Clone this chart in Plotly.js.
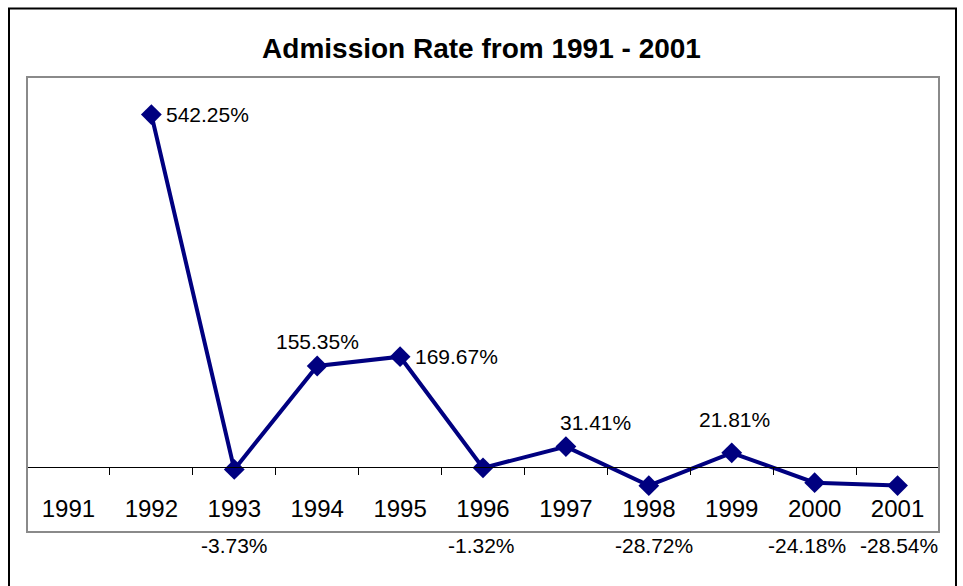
<!DOCTYPE html>
<html>
<head>
<meta charset="utf-8">
<script src="https://cdn.plot.ly/plotly-3.0.1.min.js"></script>
<style>
  html, body { margin: 0; padding: 0; background: #ffffff; }
  #chart { width: 963px; height: 586px; }
</style>
</head>
<body>
<div id="chart"></div>
<script>
// ---- data ----
const years = ['1991','1992','1993','1994','1995','1996','1997','1998','1999','2000','2001'];
const rates = [null, 542.25, -3.73, 155.35, 169.67, -1.32, 31.41, -28.72, 21.81, -24.18, -28.54];
const chartTitle = 'Admission Rate from 1991 - 2001';

// ---- label placement (style only) ----
const labelPos    = [null, 'right', 'below', 'above', 'right', 'below', 'above', 'below', 'above', 'below', 'below'];
const labelShift  = [0, 0, 0, 0, 0, -2, 30, 5, 3, -8, 1];
const labelLift   = [0, 0, 0, 0, 0, 0, 0, 0, 9, 0, 0];

const yMin = -100, yMax = 600;
const FONT = 'Liberation Sans, Arial, sans-serif';
const NAVY = '#000080';

const trace = {
  type: 'scatter',
  mode: 'lines+markers',
  x: years,
  y: rates,
  connectgaps: false,
  line: { color: NAVY, width: 4 },
  marker: { symbol: 'diamond', size: 16, color: NAVY, line: { width: 0 } },
  hoverinfo: 'skip',
  cliponaxis: false
};

const annotations = [];
years.forEach((yr, i) => {
  const v = rates[i];
  if (v === null) return;
  const txt = v.toFixed(2) + '%';
  // x given as category index so numeric-looking category names are not misread
  const base = { x: i, text: txt, showarrow: false, font: { family: FONT, size: 21, color: '#000000' }, xref: 'x' };
  if (labelPos[i] === 'right') {
    annotations.push(Object.assign(base, { y: v, yref: 'y', xanchor: 'left', yanchor: 'middle', xshift: 13 + labelShift[i] }));
  } else if (labelPos[i] === 'above') {
    annotations.push(Object.assign(base, { y: v, yref: 'y', xanchor: 'center', yanchor: 'bottom', yshift: 11 + labelLift[i], xshift: labelShift[i] }));
  } else {
    annotations.push(Object.assign(base, { y: -0.03, yref: 'paper', xanchor: 'center', yanchor: 'middle', xshift: labelShift[i] }));
  }
});

const layout = {
  width: 963,
  height: 586,
  margin: { l: 27, r: 24, t: 77, b: 54, pad: 0 },
  paper_bgcolor: '#ffffff',
  plot_bgcolor: '#ffffff',
  showlegend: false,
  font: { family: FONT, color: '#000000' },
  title: {
    text: chartTitle,
    font: { family: FONT, size: 28, weight: 'bold', color: '#000000' },
    x: 0.5, xref: 'container', xanchor: 'center',
    y: 0.918, yref: 'container', yanchor: 'middle'
  },
  xaxis: {
    type: 'category',
    categoryorder: 'array',
    categoryarray: years,
    range: [-0.5, years.length - 0.5],
    fixedrange: true,
    anchor: 'free',
    position: (0 - yMin) / (yMax - yMin),
    showline: true,
    linecolor: '#000000',
    linewidth: 1,
    ticks: 'outside',
    tickson: 'boundaries',
    ticklen: 7,
    tickwidth: 1,
    tickcolor: '#000000',
    ticklabelstandoff: 20,
    tickfont: { family: FONT, size: 24, color: '#000000' },
    showgrid: false,
    zeroline: false
  },
  yaxis: {
    range: [yMin, yMax],
    fixedrange: true,
    showticklabels: false,
    showgrid: false,
    zeroline: false,
    showline: false,
    ticks: ''
  },
  annotations: annotations,
  shapes: [
    { type: 'rect', xref: 'paper', yref: 'paper', x0: 0, x1: 1, y0: 0, y1: 1,
      line: { color: '#8a8a8a', width: 2 }, fillcolor: 'rgba(0,0,0,0)', layer: 'above' },
    { type: 'rect', xref: 'paper', yref: 'paper',
      x0: (9 - 27) / 912, x1: (956 - 27) / 912, y0: (532 - 600) / 455, y1: (532 - 8.5) / 455,
      line: { color: '#000000', width: 2 }, fillcolor: 'rgba(0,0,0,0)', layer: 'above' }
  ]
};

Plotly.newPlot('chart', [trace], layout, { staticPlot: true, displayModeBar: false });
</script>
</body>
</html>
